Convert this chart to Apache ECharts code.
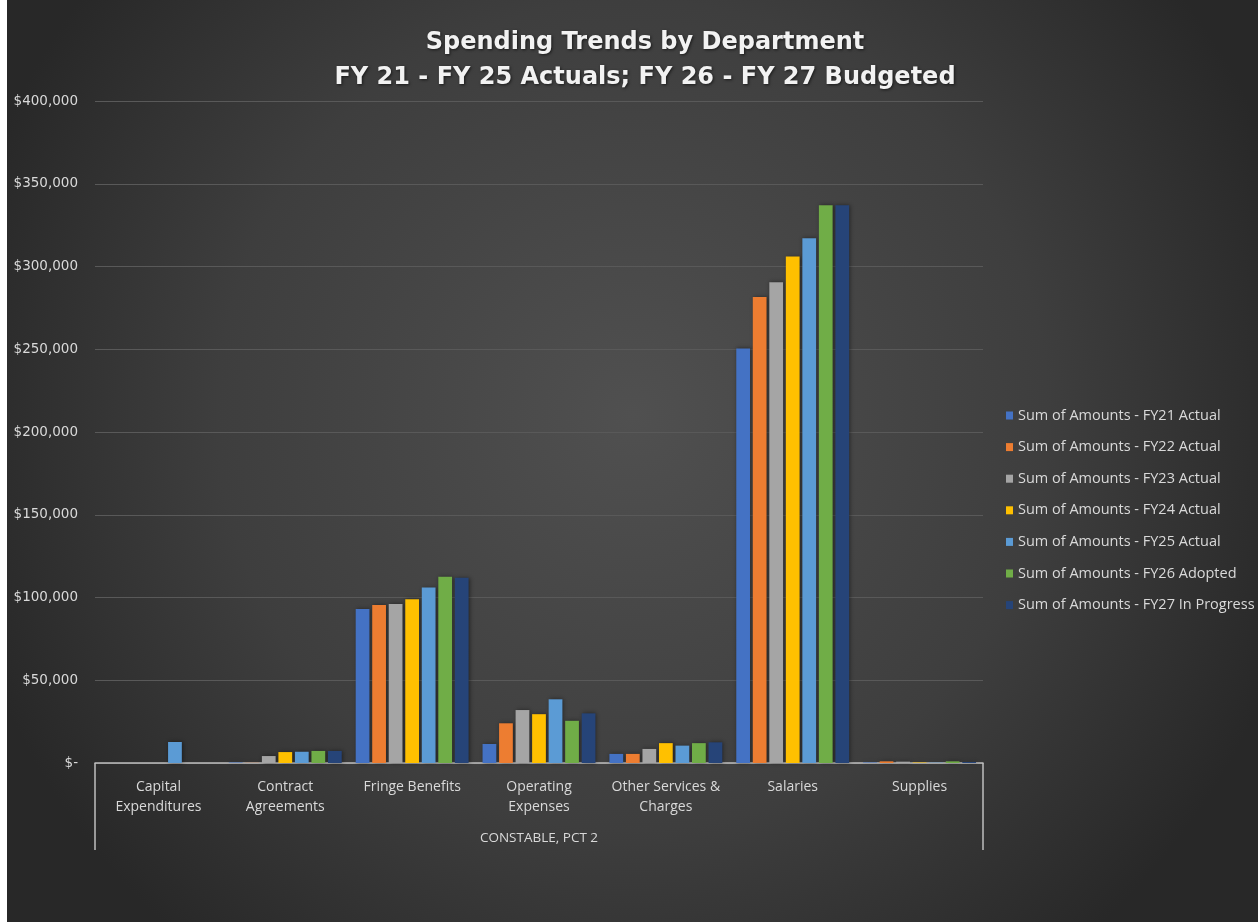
<!DOCTYPE html>
<html>
<head>
<meta charset="utf-8">
<script src="https://cdn.jsdelivr.net/npm/echarts@6/dist/echarts.min.js"></script>
<style>
  html, body { margin: 0; padding: 0; background: #ffffff; }
  #chart { position: absolute; left: 7px; top: 0; width: 1251px; height: 922px; }
</style>
</head>
<body>
<div id="chart"></div>
<script>
// ---- Data ----
const categories = ['Capital Expenditures', 'Contract Agreements', 'Fringe Benefits', 'Operating Expenses', 'Other Services & Charges', 'Salaries', 'Supplies'];
const categoryLabels = ['Capital\nExpenditures', 'Contract\nAgreements', 'Fringe Benefits', 'Operating\nExpenses', 'Other Services &\nCharges', 'Salaries', 'Supplies'];
const groupLabel = ['CONSTABLE, PCT 2'];
const seriesNames = [
  'Sum of Amounts - FY21 Actual',
  'Sum of Amounts - FY22 Actual',
  'Sum of Amounts - FY23 Actual',
  'Sum of Amounts - FY24 Actual',
  'Sum of Amounts - FY25 Actual',
  'Sum of Amounts - FY26 Adopted',
  'Sum of Amounts - FY27 In Progress'
];
const fy21 = [0, 300, 93000, 11500, 5500, 250500, 300];
const fy22 = [0, 100, 95500, 24000, 5500, 281500, 1000];
const fy23 = [0, 4200, 96000, 32000, 8500, 290500, 800];
const fy24 = [0, 6600, 99000, 29500, 12000, 306000, 300];
const fy25 = [12700, 6800, 106000, 38500, 10500, 317000, 200];
const fy26 = [0, 7300, 112500, 25500, 12000, 337000, 1000];
const fy27 = [0, 7300, 112000, 30000, 12500, 337000, 600];
const yTicks = [0, 50000, 100000, 150000, 200000, 250000, 300000, 350000, 400000];

const seriesData = [fy21, fy22, fy23, fy24, fy25, fy26, fy27];
const colors = ['#4472C4', '#ED7D31', '#A5A5A5', '#FFC000', '#5B9BD5', '#70AD47', '#264478'];

const chart = echarts.init(document.getElementById('chart'), null, { renderer: 'canvas' });

const option = {
  backgroundColor: {
    type: 'radial', x: 0.5, y: 0.45, r: 0.75,
    colorStops: [
      { offset: 0, color: '#505050' },
      { offset: 0.6, color: '#3e3e3e' },
      { offset: 1, color: '#282828' }
    ]
  },
  color: colors,
  animation: false,
  title: {
    text: 'Spending Trends by Department\nFY 21 - FY 25 Actuals; FY 26 - FY 27 Budgeted',
    left: 633,
    textAlign: 'center',
    top: 20,
    textStyle: {
      color: '#f2f2f2',
      fontFamily: 'DejaVu Sans',
      fontWeight: 'bold',
      fontSize: 24,
      lineHeight: 35,
      textShadowColor: 'rgba(0,0,0,0.6)',
      textShadowBlur: 3,
      textShadowOffsetX: 1,
      textShadowOffsetY: 1
    }
  },
  legend: {
    orient: 'vertical',
    left: 994,
    top: 403,
    itemWidth: 7,
    itemHeight: 8,
    itemGap: 16.6,
    icon: 'rect',
    data: seriesNames,
    textStyle: {
      color: '#d9d9d9',
      fontFamily: 'Open Sans',
      fontSize: 14.5,
      lineHeight: 14,
      padding: [0, 0, 0, 0]
    }
  },
  grid: {
    left: 88,
    right: 275,
    top: 101,
    bottom: 159,
    containLabel: false
  },
  xAxis: [
    {
      type: 'category',
      data: categories,
      position: 'bottom',
      axisLine: { show: true, lineStyle: { color: '#bfbfbf', width: 1.5 } },
      axisTick: { show: false },
      axisLabel: {
        interval: 0,
        color: '#d9d9d9',
        fontFamily: 'Open Sans',
        fontSize: 14,
        lineHeight: 20,
        margin: 14,
        formatter: function (v, i) { return categoryLabels[i]; }
      }
    },
    {
      type: 'category',
      data: groupLabel,
      position: 'bottom',
      axisLine: { show: false },
      axisTick: { show: true, length: 87, lineStyle: { color: '#bfbfbf', width: 1.5 } },
      axisLabel: {
        interval: 0,
        color: '#d9d9d9',
        fontFamily: 'Open Sans',
        fontSize: 13.5,
        margin: 68
      }
    }
  ],
  yAxis: {
    type: 'value',
    min: yTicks[0],
    max: yTicks[yTicks.length - 1],
    interval: yTicks[1] - yTicks[0],
    axisLine: { show: false },
    axisTick: { show: false },
    splitLine: { lineStyle: { color: '#595959', width: 1 } },
    axisLabel: {
      color: '#d9d9d9',
      fontFamily: 'DejaVu Sans',
      fontSize: 13.5,
      margin: 17,
      formatter: function (v) {
        return v === 0 ? '$-' : '$' + v.toLocaleString('en-US');
      }
    }
  },
  series: seriesNames.map(function (name, i) {
    return {
      name: name,
      type: 'bar',
      xAxisIndex: 0,
      data: seriesData[i],
      barGap: '20%',
      barCategoryGap: '11%',
      itemStyle: {
        color: colors[i],
        shadowColor: 'rgba(0,0,0,0.45)',
        shadowBlur: 4,
        shadowOffsetX: 1
      }
    };
  })
};

chart.setOption(option);
</script>
</body>
</html>
